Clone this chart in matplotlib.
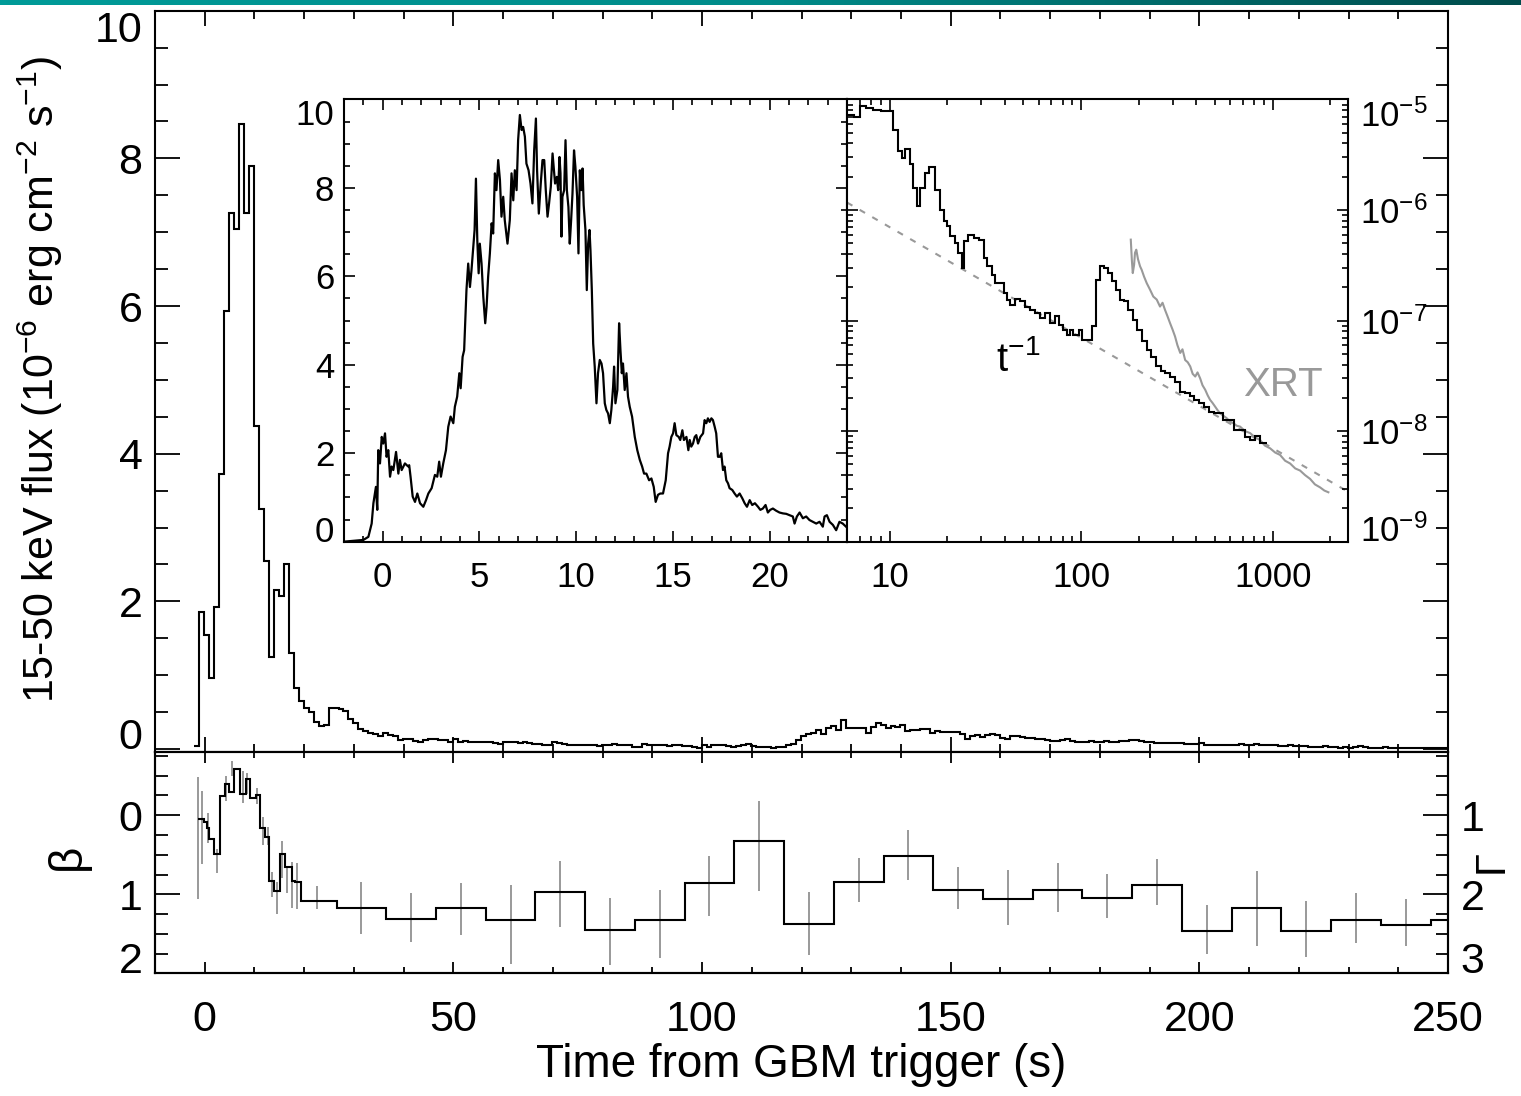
import numpy as np
import matplotlib
matplotlib.use("Agg")
import matplotlib.pyplot as plt
from matplotlib.ticker import MultipleLocator, FixedLocator, LogLocator, NullFormatter
from matplotlib.colors import LinearSegmentedColormap

plt.rcParams['font.family'] = ['Liberation Sans', 'DejaVu Sans']
plt.rcParams['mathtext.fontset'] = 'custom'
plt.rcParams['mathtext.rm'] = 'Liberation Sans'
plt.rcParams['mathtext.it'] = 'Liberation Sans:italic'
plt.rcParams['mathtext.default'] = 'regular'

# ---- main light curve, 1 s bins starting at t = -2.1 s (1e-6 erg cm-2 s-1)
main_t0 = -2.1
main_dt = 1.0
main_flux = [
    0.04, 1.86, 1.55, 0.96, 1.92, 3.73, 5.93, 7.26, 7.05, 8.47, 7.26, 7.89, 4.37,
    3.25, 2.55, 1.25, 2.15, 2.07, 2.50, 1.30, 0.83, 0.65, 0.55, 0.50, 0.37,
    0.31, 0.32, 0.56, 0.56, 0.54, 0.51, 0.41, 0.35, 0.27, 0.24, 0.22, 0.21, 0.17,
    0.22, 0.19, 0.17, 0.12, 0.13, 0.14, 0.11, 0.10, 0.12, 0.13, 0.14, 0.12, 0.12,
    0.10, 0.13, 0.10,
    0.11, 0.10, 0.10, 0.09, 0.09, 0.09, 0.08, 0.07, 0.09, 0.09, 0.09, 0.08, 0.09,
    0.08, 0.07, 0.07, 0.06, 0.06, 0.09, 0.08, 0.07, 0.06, 0.05, 0.06, 0.05, 0.06,
    0.05, 0.04, 0.06, 0.05, 0.07, 0.05, 0.06, 0.05, 0.03, 0.03, 0.07, 0.05, 0.05,
    0.06, 0.06, 0.04, 0.05, 0.05, 0.04, 0.04, 0.03, 0.02, 0.05, 0.03, 0.06, 0.05,
    0.05, 0.04, 0.03, 0.04, 0.05, 0.07, 0.04, 0.03, 0.03, 0.03, 0.02, 0.03, 0.03,
    0.05, 0.07, 0.12, 0.17,
    0.20, 0.22, 0.26, 0.20, 0.29, 0.31, 0.26, 0.40, 0.29, 0.28,
    0.28, 0.29, 0.22, 0.30, 0.35, 0.32, 0.29, 0.31, 0.30, 0.32,
    0.24, 0.26, 0.26, 0.27, 0.27, 0.22, 0.24, 0.23, 0.23, 0.23,
    0.23, 0.21, 0.14, 0.18, 0.19, 0.16, 0.19, 0.21, 0.19, 0.15,
    0.14, 0.17, 0.17, 0.16, 0.15, 0.15, 0.14, 0.13, 0.12, 0.11,
    0.11, 0.12, 0.13, 0.11, 0.10, 0.09, 0.10, 0.11, 0.09, 0.09,
    0.11, 0.09, 0.10, 0.11, 0.11, 0.12, 0.12, 0.11, 0.10, 0.09,
    0.08, 0.08, 0.08, 0.08, 0.08, 0.08, 0.07, 0.07, 0.07, 0.08,
    0.06, 0.06, 0.06, 0.06, 0.06, 0.05, 0.06, 0.07, 0.06, 0.06,
    0.07, 0.06, 0.06, 0.05, 0.05, 0.04, 0.04, 0.05, 0.04, 0.04,
    0.04, 0.03, 0.03, 0.03, 0.04, 0.03, 0.03, 0.02, 0.03, 0.02,
    0.03, 0.04, 0.03, 0.02, 0.02, 0.02, 0.03, 0.02, 0.02, 0.02,
    0.02, 0.02, 0.01, 0.01, 0.01, 0.02, 0.02, 0.02, 0.02,
]

# ---- spectral index panel (beta, Gamma = beta + 1)
beta_edges = [-1.34, -0.18, 0.45, 0.90, 1.79, 3.14, 4.03, 4.93, 5.82, 7.17, 8.24,
              9.14, 10.30, 11.02, 12.10, 12.99, 13.89, 15.05, 16.13, 17.47, 18.10,
              19.27, 26.5, 36.5, 46.5, 56.5, 66.5, 76.5, 86.5, 96.5, 106.5, 116.5,
              126.5, 136.5, 146.5, 156.5, 166.5, 176.5, 186.5, 196.5, 206.5, 216.5,
              226.5, 236.5, 246.5, 256.5]
beta_vals = [0.05, 0.09, 0.16, 0.30, 0.49, -0.24, -0.39, -0.29, -0.59, -0.27, -0.46,
             -0.22, -0.25, 0.16, 0.28, 0.83, 0.96, 0.49, 0.66, 0.83, 0.84,
             1.08, 1.17, 1.31, 1.18, 1.32, 0.97, 1.45, 1.33, 0.86, 0.33, 1.37,
             0.84, 0.52, 0.95, 1.06, 0.95, 1.05, 0.88, 1.47, 1.18, 1.46, 1.32, 1.39, 1.33]
err_t = [-1.34, -0.45, 0.63, 2.51, 4.30, 5.56, 7.62, 8.51, 10.48, 11.65, 12.72, 13.62,
         14.52, 15.50, 16.58, 17.56, 18.55, 22.6, 31.5, 41.5, 51.5, 61.5, 71.5, 81.5,
         91.5, 101.5, 111.5, 121.5, 131.5, 141.5, 151.5, 161.5, 171.5, 181.5, 191.5,
         201.5, 211.5, 221.5, 231.5, 241.5]
err_lo = [-0.48, -0.31, -0.03, 0.43, -0.50, -0.69, -0.56, -0.53, -0.35, 0.02, 0.15, 0.72,
          0.85, 0.32, 0.64, 0.59, 0.60, 0.90, 0.84, 0.98, 0.86, 0.88, 0.58, 1.05,
          0.94, 0.51, -0.18, 0.97, 0.54, 0.19, 0.65, 0.69, 0.60, 0.74, 0.56,
          1.13, 0.71, 1.08, 0.99, 1.06]
err_hi = [1.06, 0.62, 0.35, 0.73, -0.18, -0.50, -0.16, -0.27, -0.14, 0.38, 0.38, 1.04,
          1.25, 0.79, 0.98, 1.17, 1.19, 1.19, 1.50, 1.60, 1.52, 1.88, 1.42, 1.90,
          1.81, 1.27, 0.96, 1.77, 1.10, 0.82, 1.19, 1.39, 1.22, 1.30, 1.14,
          1.76, 1.65, 1.79, 1.62, 1.66]

# ---- left inset: high resolution first 24 s
inset_t = [-2.03, -1.00, -0.74, -0.57, -0.48, -0.35, -0.28, -0.23, -0.14, -0.05, 0.03,
           0.12, 0.20, 0.29, 0.38, 0.46, 0.55, 0.69, 0.81, 0.89, 0.98, 1.15, 1.32, 1.37,
           1.44, 1.55, 1.67, 1.79, 1.93, 2.10, 2.24, 2.36, 2.53, 2.70, 2.82, 2.92, 3.01,
           3.13, 3.27, 3.39, 3.51, 3.65, 3.73, 3.85, 3.96, 4.03, 4.13, 4.21, 4.33, 4.42,
           4.51, 4.59, 4.68, 4.75, 4.82, 4.89, 4.96, 5.02, 5.11, 5.20, 5.30, 5.37, 5.45,
           5.54, 5.63, 5.71, 5.80, 5.88, 5.97, 6.06, 6.14, 6.23, 6.31, 6.45, 6.57, 6.66,
           6.75, 6.83, 6.92, 7.00, 7.09, 7.18, 7.26, 7.35, 7.43, 7.54, 7.64, 7.74, 7.83,
           7.92, 7.98, 8.07, 8.17, 8.26, 8.35, 8.43, 8.52, 8.60, 8.69, 8.78, 8.85, 8.91,
           9.00, 9.07, 9.14, 9.19, 9.24, 9.29, 9.38, 9.45, 9.52, 9.60, 9.67, 9.74, 9.81,
           9.89, 9.96, 10.05, 10.12, 10.19, 10.26, 10.33, 10.39, 10.48, 10.55, 10.62,
           10.69, 10.74, 10.81, 10.88, 10.96, 11.05, 11.13, 11.22, 11.31, 11.39, 11.48,
           11.56, 11.65, 11.74, 11.82, 11.91, 11.96, 12.03, 12.13, 12.22, 12.29, 12.36,
           12.42, 12.51, 12.60, 12.68, 12.77, 12.89, 13.03, 13.16, 13.29, 13.41, 13.51,
           13.63, 13.77, 13.89, 14.01, 14.11, 14.23, 14.35, 14.49, 14.63, 14.75, 14.83,
           14.92, 15.01, 15.09, 15.18, 15.30, 15.38, 15.49, 15.57, 15.70, 15.80, 15.87,
           15.95, 16.04, 16.13, 16.21, 16.30, 16.42, 16.56, 16.64, 16.73, 16.81, 16.90,
           16.99, 17.07, 17.16, 17.24, 17.33, 17.42, 17.50, 17.59, 17.67, 17.76, 17.85,
           17.93, 18.07, 18.19, 18.31, 18.45, 18.59, 18.71, 18.83, 18.97, 19.10, 19.24,
           19.40, 19.52, 19.65, 19.79, 19.91, 20.03, 20.17, 20.34, 20.51, 20.69, 20.86,
           21.03, 21.20, 21.29, 21.41, 21.55, 21.72, 21.89, 22.06, 22.24, 22.41, 22.58,
           22.75, 22.84, 22.96, 23.10, 23.27, 23.44, 23.61, 23.78, 23.95]
inset_flux = [0.00, 0.04, 0.11, 0.41, 0.87, 1.24, 0.72, 2.07, 1.77, 2.37, 2.22,
              2.45, 1.92, 2.07, 1.47, 1.70, 1.62, 2.03, 1.54, 1.85, 1.62, 1.77, 1.70, 1.73,
              1.47, 1.02, 0.90, 1.09, 0.87, 0.79, 0.94, 1.09, 1.21, 1.51, 1.47, 1.81, 1.47,
              1.77, 2.07, 2.60, 2.83, 2.68, 3.05, 3.28, 3.81, 3.47, 4.18, 4.33, 5.69, 6.29,
              5.76, 6.14, 6.67, 7.05, 8.21, 6.82, 6.07, 6.74, 6.29, 5.54, 4.94, 5.31, 5.99,
              6.52, 7.20, 6.97, 8.33, 7.95, 8.63, 8.18, 7.35, 7.80, 7.27, 6.74, 7.27, 8.33,
              7.72, 8.40, 7.95, 9.08, 9.65, 9.31, 9.38, 9.16, 8.55, 8.40, 8.10, 7.65, 8.85,
              9.57, 8.40, 7.42, 8.10, 8.63, 8.63, 7.95, 7.35, 7.65, 8.03, 8.78, 8.40, 8.10,
              8.25, 7.95, 8.70, 8.33, 6.90, 7.80, 7.95, 9.08, 7.95, 7.57, 6.74, 7.27, 7.87,
              8.85, 8.48, 7.80, 6.52, 8.40, 7.95, 8.44, 7.61, 7.05, 5.69, 6.74,
              7.05, 6.59, 5.69, 4.48, 3.96, 3.13, 3.81, 4.11, 4.03, 3.81, 3.13,
              2.98, 2.90, 2.68, 2.98, 3.50, 3.96, 3.13, 3.43, 4.94, 4.33, 3.81,
              4.03, 3.43, 3.81, 3.28, 3.05, 2.83, 2.37, 2.07, 1.85, 1.70, 1.54,
              1.54, 1.39, 1.43, 1.24, 0.90, 1.06, 1.09, 1.09, 1.39, 2.00, 2.15,
              2.37, 2.45, 2.68, 2.41, 2.37, 2.30, 2.52, 2.30, 2.37, 2.07, 2.30,
              2.15, 2.22, 2.37, 2.41, 2.22, 2.37, 2.45, 2.75, 2.68, 2.79, 2.71,
              2.79, 2.75, 2.60, 2.45, 1.92, 1.92, 2.00, 1.62, 1.70, 1.39, 1.32,
              1.21, 1.17, 1.09, 1.02, 1.09, 0.98, 0.87, 0.79, 0.94, 0.83, 0.87,
              0.79, 0.72, 0.75, 0.83, 0.66, 0.72, 0.75, 0.70, 0.66, 0.64, 0.63,
              0.60, 0.57, 0.41, 0.57, 0.66, 0.53, 0.57, 0.49, 0.45, 0.41, 0.45,
              0.34, 0.57, 0.60, 0.45, 0.38, 0.26, 0.45, 0.41, 0.34]

# ---- right inset: log-log BAT light curve (erg cm-2 s-1)
bat_edges = [6.0, 6.5, 7.0, 7.5, 8.2, 9.0, 10.4, 11.1, 11.6, 12.1, 12.8, 13.2, 13.9,
             14.5, 15.4, 16.1, 17.3, 18.4, 19.2, 19.9, 20.7, 22.0, 22.9, 23.9, 24.5,
             25.8, 27.5, 29.2, 31.0, 32.2, 34.2, 35.6, 39.4, 41.0, 42.6, 45.3, 48.1,
             51.0, 54.2, 57.5, 61.1, 64.9, 68.9, 73.2, 76.2, 80.9, 84.2, 87.6, 91.2,
             96.9, 100.8, 114, 119, 126, 132, 138, 145, 152, 160, 168, 176, 186, 196,
             208, 220, 232, 245, 260, 275, 292, 310, 328, 348, 368, 390, 413, 438,
             464, 492, 553, 630, 715, 760, 810, 860, 930]
bat_flux = [7.3e-6, 6.9e-6, 8.8e-6, 8.3e-6, 8.0e-6, 7.8e-6, 5.35e-6, 3.4e-6, 2.96e-6,
            3.58e-6, 2.63e-6, 1.59e-6, 1.08e-6, 1.59e-6, 2.17e-6, 2.46e-6, 1.53e-6,
            1.01e-6, 7.9e-7, 7.1e-7, 5.8e-7, 5.0e-7, 4.1e-7, 3.0e-7, 5.2e-7, 6.0e-7,
            5.6e-7, 5.4e-7, 3.7e-7, 3.1e-7, 2.6e-7, 2.2e-7, 1.78e-7, 1.55e-7, 1.39e-7,
            1.57e-7, 1.50e-7, 1.34e-7, 1.25e-7, 1.17e-7, 1.05e-7, 1.17e-7, 9.5e-8,
            1.09e-7, 9.2e-8, 8.3e-8, 7.4e-8, 8.3e-8, 7.4e-8, 8.3e-8, 6.7e-8, 8.9e-8,
            2.34e-7, 3.14e-7, 3.0e-7, 2.7e-7, 2.26e-7, 1.9e-7, 1.55e-7, 1.49e-7,
            1.25e-7, 1.02e-7, 8.3e-8, 6.5e-8, 5.4e-8, 4.7e-8, 3.85e-8, 3.47e-8,
            3.35e-8, 3.12e-8, 2.81e-8, 2.28e-8, 2.21e-8, 2.06e-8, 1.92e-8, 1.79e-8,
            1.67e-8, 1.50e-8, 1.45e-8, 1.26e-8, 1.03e-8, 8.9e-9, 8.3e-9, 9.0e-9, 7.8e-9]
xrt_t = [181.6, 184, 186, 189, 191, 194, 198, 203, 207, 213, 220, 229, 238, 248, 258,
         266, 274, 282, 291, 300, 309, 318, 329, 338, 349, 360, 371, 382, 394, 405,
         418, 430, 444, 458, 471, 485, 500, 515, 531, 552, 575, 598, 623, 648, 675,
         718, 762, 808, 859, 910, 968, 1030, 1091, 1160, 1232, 1310, 1389, 1475,
         1566, 1660, 1766, 1860, 1951]
xrt_flux = [5.4e-7, 3.5e-7, 2.69e-7, 3.2e-7, 4.1e-7, 4.38e-7, 3.6e-7, 3.1e-7, 2.88e-7,
            2.5e-7, 2.18e-7, 1.9e-7, 1.65e-7, 1.55e-7, 1.34e-7, 1.45e-7, 1.25e-7,
            1.1e-7, 9.5e-8, 8.3e-8, 7.2e-8, 6.0e-8, 5.1e-8, 5.5e-8, 4.4e-8, 4.2e-8,
            3.85e-8, 3.3e-8, 3.12e-8, 3.4e-8, 3.0e-8, 2.6e-8, 2.37e-8, 2.1e-8, 1.92e-8,
            1.8e-8, 1.67e-8, 1.55e-8, 1.45e-8, 1.38e-8, 1.31e-8, 1.22e-8, 1.18e-8,
            1.12e-8, 1.10e-8, 1.0e-8, 9.6e-9, 8.8e-9, 8.3e-9, 7.4e-9, 7.0e-9, 6.4e-9,
            6.1e-9, 5.4e-9, 5.1e-9, 4.6e-9, 4.4e-9, 4.0e-9, 3.7e-9, 3.3e-9, 3.1e-9,
            2.9e-9, 2.8e-9]
fit_t = [6.0, 2500.0]
fit_flux = [1.17e-6, 2.8e-9]

GRAY = '#999999'
W, H = 1521, 1096
FS_MAIN = 31
FS_INSET = 25


def box(l, t, r, b):
    # pixel box -> figure fraction
    return [l / W, 1 - b / H, (r - l) / W, (b - t) / H]


def style(ax, lw=1.5):
    for s in ax.spines.values():
        s.set_linewidth(lw)


fig = plt.figure(figsize=(W / 100, H / 100), dpi=100)

# teal bar on top
bar = fig.add_axes([0, 1 - 5 / H, 1, 5 / H])
teal = LinearSegmentedColormap.from_list('teal', ['#009B98', '#008C8A', '#004C4C'])
bar.imshow(np.linspace(0, 1, 256)[None, :], aspect='auto', cmap=teal)
bar.axis('off')

# ---- main panel
ax = fig.add_axes(box(155, 10.7, 1448, 752))
main_edges = main_t0 + main_dt * np.arange(len(main_flux) + 1)
ax.stairs(main_flux, main_edges, baseline=None, color='k', lw=1.5)
ax.set_xlim(-10, 250)
ax.set_ylim(-0.04, 10)
ax.xaxis.set_major_locator(MultipleLocator(50))
ax.xaxis.set_minor_locator(MultipleLocator(10))
ax.yaxis.set_major_locator(FixedLocator([0, 2, 4, 6, 8, 10]))
ax.yaxis.set_minor_locator(MultipleLocator(0.5))
ax.tick_params(which='both', direction='in', top=True, right=True, labelbottom=False,
               width=1.3)
ax.tick_params(axis='y', which='major', length=18, labelsize=FS_MAIN, pad=9)
ax.tick_params(axis='y', which='minor', length=9)
ax.tick_params(axis='x', which='major', length=11)
ax.tick_params(axis='x', which='minor', length=5.5)
style(ax)
yt = ax.yaxis.get_major_ticks()
yt[0].label1.set_va('baseline')
yt[-1].label1.set_va('top')

# ---- spectral index panel
axb = fig.add_axes(box(155, 752, 1448, 973.3))
axb.vlines(err_t, err_lo, err_hi, color=GRAY, lw=1.4, zorder=1)
axb.stairs(beta_vals, beta_edges, baseline=None, color='k', lw=1.5, zorder=2)
axb.set_xlim(-10, 250)
axb.set_ylim(2.0, -0.8)
axb.xaxis.set_major_locator(MultipleLocator(50))
axb.xaxis.set_minor_locator(MultipleLocator(10))
axb.yaxis.set_major_locator(FixedLocator([0, 1, 2]))
axb.yaxis.set_minor_locator(MultipleLocator(0.25))
axb.tick_params(which='both', direction='in', top=True, right=False, width=1.3)
axb.tick_params(axis='x', which='major', length=8, labelsize=FS_MAIN, pad=19)
axb.tick_params(axis='x', which='minor', length=4)
axb.tick_params(axis='y', which='major', length=18, labelsize=FS_MAIN, pad=9)
axb.tick_params(axis='y', which='minor', length=9)
style(axb)
bt = axb.yaxis.get_major_ticks()
bt[-1].label1.set_va('baseline')

axg = axb.twinx()
axg.set_ylim(3.0, 0.2)
axg.yaxis.set_major_locator(FixedLocator([1, 2, 3]))
axg.yaxis.set_minor_locator(MultipleLocator(0.25))
axg.tick_params(which='both', direction='in', width=1.3)
axg.tick_params(axis='y', which='major', length=18, labelsize=FS_MAIN, pad=9)
axg.tick_params(axis='y', which='minor', length=9)
style(axg)
gt = axg.yaxis.get_major_ticks()
gt[-1].label2.set_va('baseline')

# ---- left inset
axi = fig.add_axes(box(344, 99.5, 847, 541.7))
axi.plot(inset_t, inset_flux, color='k', lw=1.6)
axi.set_xlim(-2, 24)
axi.set_ylim(0, 10)
axi.xaxis.set_major_locator(FixedLocator([0, 5, 10, 15, 20]))
axi.xaxis.set_minor_locator(MultipleLocator(1))
axi.yaxis.set_major_locator(FixedLocator([0, 2, 4, 6, 8, 10]))
axi.yaxis.set_minor_locator(MultipleLocator(0.5))
axi.tick_params(which='both', direction='in', top=True, right=True, width=1.2)
axi.tick_params(which='major', length=8, labelsize=FS_INSET)
axi.tick_params(which='minor', length=4.5)
axi.tick_params(axis='x', which='major', pad=14)
axi.tick_params(axis='y', which='major', pad=7)
style(axi)
it = axi.yaxis.get_major_ticks()
it[0].label1.set_va('baseline')
it[-1].label1.set_va('top')

# ---- right inset (log-log)
axr = fig.add_axes(box(847, 99.5, 1348, 541.7))
axr.set_xscale('log')
axr.set_yscale('log')
axr.plot(fit_t, fit_flux, color=GRAY, lw=1.5, ls=(0, (3, 4)), zorder=1)
axr.plot(xrt_t, xrt_flux, color=GRAY, lw=1.5, zorder=2)
axr.stairs(bat_flux, bat_edges, baseline=None, color='k', lw=1.5, zorder=3)
axr.set_xlim(6, 2470)
axr.set_ylim(1e-9, 1e-5)
axr.set_xticks([10, 100, 1000])
axr.set_xticklabels(['10', '100', '1000'])
axr.xaxis.set_minor_locator(LogLocator(base=10, subs=np.arange(2, 10)))
axr.xaxis.set_minor_formatter(NullFormatter())
axr.set_yticks([1e-9, 1e-8, 1e-7, 1e-6, 1e-5])
axr.set_yticklabels(['10$^{-9}$', '10$^{-8}$', '10$^{-7}$', '10$^{-6}$', '10$^{-5}$'])
axr.yaxis.set_minor_locator(LogLocator(base=10, subs=np.arange(2, 10)))
axr.yaxis.set_minor_formatter(NullFormatter())
axr.tick_params(which='both', direction='in', top=True, right=True, left=True,
                labelleft=False, labelright=True, width=1.2)
axr.tick_params(which='major', length=8, labelsize=FS_INSET)
axr.tick_params(which='minor', length=4.5)
axr.tick_params(axis='x', which='major', pad=14)
axr.tick_params(axis='y', which='major', pad=9)
style(axr)
rt = axr.yaxis.get_major_ticks()
rt[0].label2.set_va('baseline')
rt[-1].label2.set_va('top')
axr.text(36, 3.5e-8, 't$^{-1}$', fontsize=29, ha='left', va='baseline')
axr.text(700, 2.06e-8, 'XRT', fontsize=29, color=GRAY, ha='left', va='baseline')

# ---- axis titles
fig.text(40 / W, 1 - 379 / H,
         '15-50 keV flux (10$^{-6}$ erg cm$^{-2}$ s$^{-1}$)',
         rotation=90, ha='center', va='center', fontsize=31)
fig.text(68 / W, 1 - 857 / H, 'β', rotation=90, ha='center', va='center', fontsize=33)
fig.text(1492 / W, 1 - 862 / H, 'Γ', rotation=90, ha='center', va='center', fontsize=30)
fig.text(801 / W, 1 - 1065 / H, 'Time from GBM trigger (s)', ha='center', va='center',
         fontsize=33)

fig.savefig('out.png', dpi=100)
